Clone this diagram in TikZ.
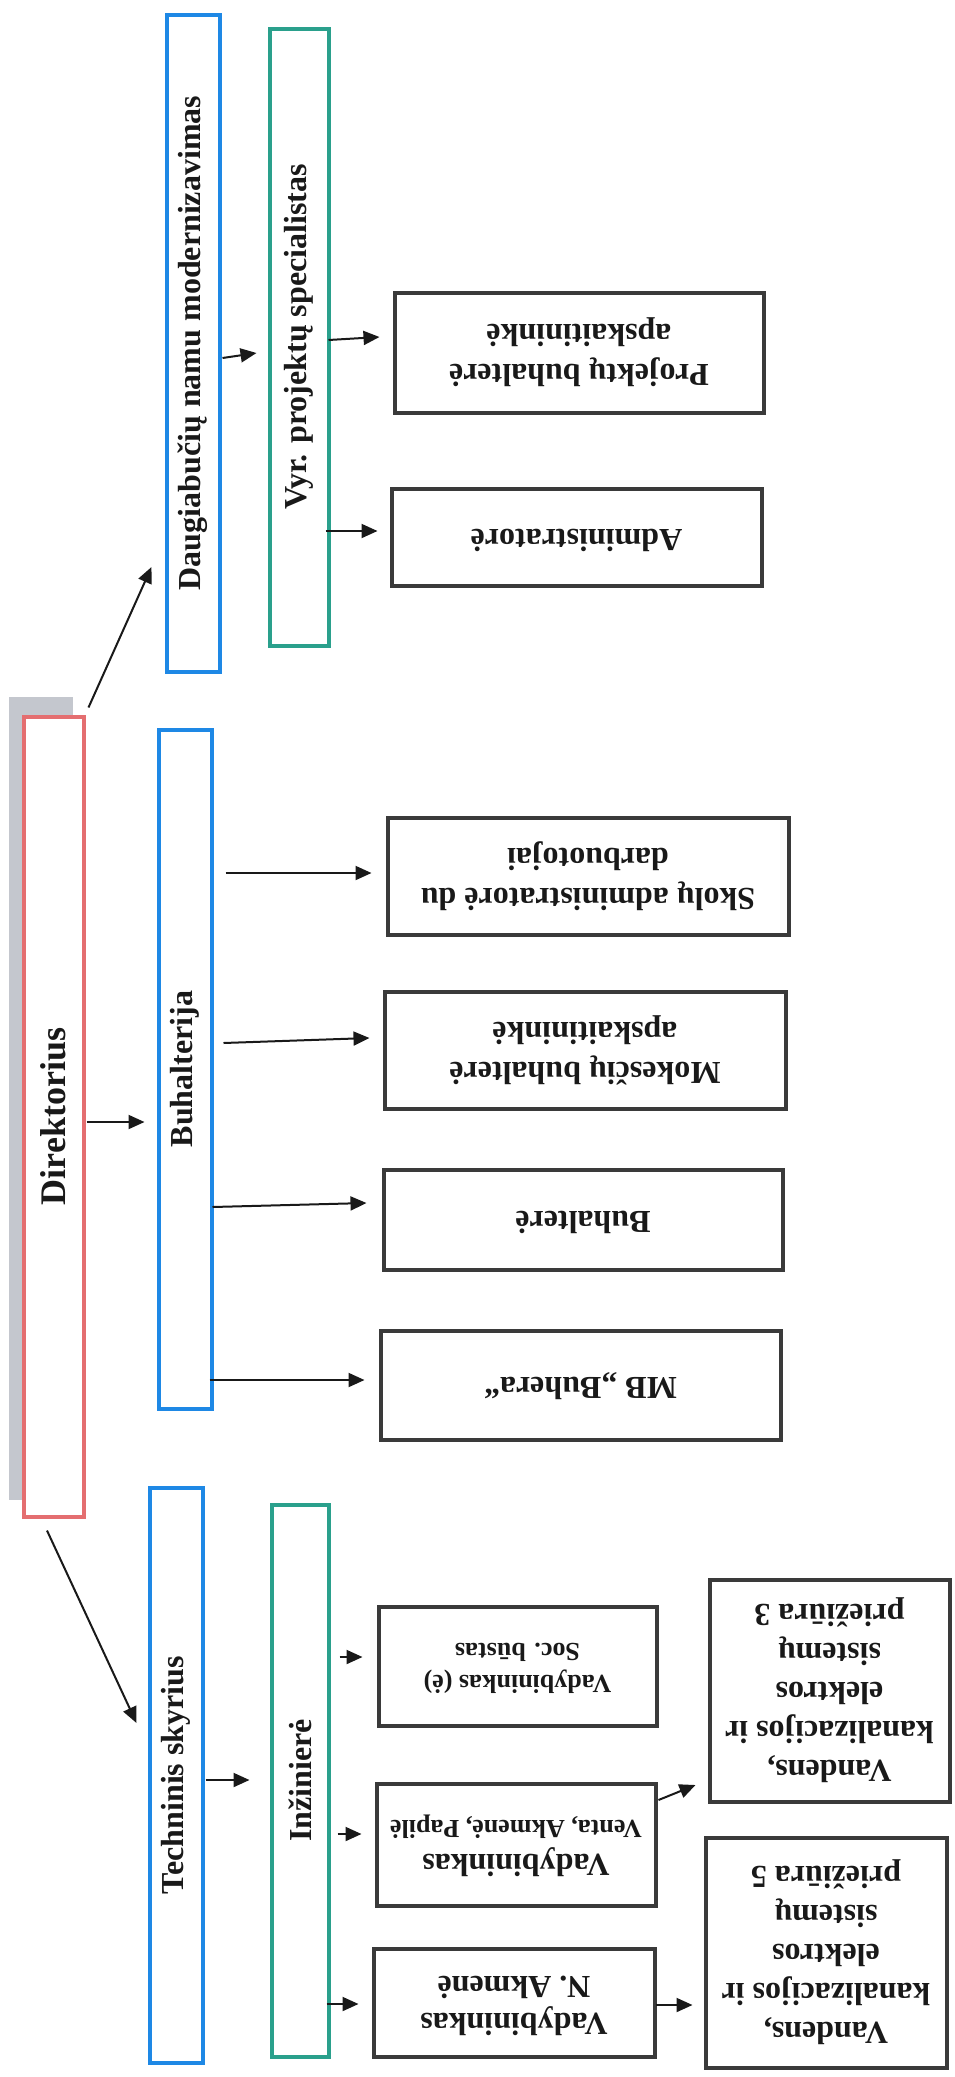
\documentclass[tikz,border=0pt]{standalone}
\usepackage{fontspec}
\setmainfont{Liberation Serif}
\usepackage{graphicx}
\usetikzlibrary{arrows.meta}
\definecolor{bblue}{RGB}{30,136,229}
\definecolor{tteal}{RGB}{42,160,140}
\definecolor{rred}{RGB}{228,110,112}
\definecolor{dgray}{RGB}{58,58,58}
\definecolor{shad}{RGB}{196,199,206}
\definecolor{txt}{RGB}{25,25,25}
\newcommand{\flipt}[1]{\rotatebox{180}{\begin{tabular}{@{}c@{}}#1\end{tabular}}}
\newcommand{\upt}[1]{\rotatebox{90}{#1}}
\begin{document}
\begin{tikzpicture}[x=1pt,y=-1pt,
  box/.style={draw=dgray, line width=4pt, fill=white, inner sep=0pt, text=txt,
    font=\bfseries\fontsize{32}{40}\selectfont},
  vbox/.style={line width=4pt, fill=white, inner sep=0pt, text=txt,
    font=\bfseries\fontsize{32}{40}\selectfont},
  arr/.style={line width=2pt, draw=txt, -{Triangle[length=16pt,width=14pt]}},
]
\useasboundingbox (0,0) rectangle (954,2077);

% Direktorius with shadow
\fill[shad] (9,697) rectangle (73,1500);
\node[vbox, draw=rred, minimum width=60pt, minimum height=800pt,
  font=\bfseries\fontsize{36}{44}\selectfont] (dir) at (53.5,1116.5) {\upt{Direktorius}};

% second level
\node[vbox, draw=bblue, minimum width=53pt, minimum height=657pt] (daug) at (193,343) {\upt{Daugiabučių namu modernizavimas}};
\node[vbox, draw=bblue, minimum width=53pt, minimum height=679pt] (buh) at (185,1069) {\upt{Buhalterija}};
\node[vbox, draw=bblue, minimum width=53pt, minimum height=575pt] (tech) at (176,1775) {\upt{Techninis skyrius}};

% third level (teal)
\node[vbox, draw=tteal, minimum width=59pt, minimum height=617pt] (vyr) at (299,337) {\upt{Vyr. projektų specialistas}};
\node[vbox, draw=tteal, minimum width=57pt, minimum height=552pt] (inz) at (300,1780.5) {\upt{Inžinierė}};

% leaf boxes
\node[box, minimum width=369pt, minimum height=120pt] (proj) at (579,352.5) {\flipt{Projektų buhalterė\\apskaitininkė}};
\node[box, minimum width=370pt, minimum height=97pt] (admin) at (576.5,537) {\flipt{Administratorė}};

\node[box, minimum width=401pt, minimum height=117pt] (skol) at (588,876) {\flipt{Skolų administratorė du\\darbuotojai}};
\node[box, minimum width=401pt, minimum height=117pt] (mok) at (585,1050) {\flipt{Mokesčių buhalterė\\apskaitininkė}};
\node[box, minimum width=399pt, minimum height=100pt] (buhe) at (583,1219.5) {\flipt{Buhalterė}};
\node[box, minimum width=400pt, minimum height=109pt] (mb) at (580.5,1385) {\flipt{MB „Buhera“}};

\node[box, minimum width=278pt, minimum height=119pt,
  font=\bfseries\fontsize{26}{32}\selectfont] (soc) at (517.5,1666) {\flipt{Vadybininkas (ė)\\Soc. būstas}};
\node[box, minimum width=279pt, minimum height=122pt,
  font=\bfseries\fontsize{26}{34}\selectfont] (venta) at (516,1844.5) {\flipt{{\fontsize{32}{38}\selectfont Vadybininkas}\\Venta, Akmenė, Papilė}};
\node[box, minimum width=281pt, minimum height=108pt,
  font=\bfseries\fontsize{32}{37}\selectfont] (nakm) at (514,2002.5) {\flipt{Vadybininkas\\N. Akmenė}};

\node[box, minimum width=240pt, minimum height=222pt,
  font=\bfseries\fontsize{32}{39}\selectfont] (v3) at (829.5,1690.5) {\flipt{Vandens,\\kanalizacijos ir\\elektros\\sistemų\\priežiūra 3}};
\node[box, minimum width=241pt, minimum height=230pt,
  font=\bfseries\fontsize{32}{39}\selectfont] (v5) at (826,1952.5) {\flipt{Vandens,\\kanalizacijos ir\\elektros\\sistemų\\priežiūra 5}};

% connectors
\draw[arr] ([shift={(3pt,7pt)}]dir.north east) -- ([shift={(-13pt,-224pt)}]daug.west);
\draw[arr] ([shift={(1pt,-5.5pt)}]dir.east) -- ([shift={(-12pt,-53pt)}]buh.west);
\draw[arr] ([shift={(-6.5pt,-12pt)}]dir.south) -- ([shift={(-11pt,52pt)}]tech.west);

\draw[arr] ([shift={(1pt,-15pt)}]daug.east) -- ([shift={(-11pt,-16pt)}]vyr.west);
\draw[arr] ([shift={(-2pt,-3pt)}]vyr.east) -- ([shift={(-13pt,15.5pt)}]proj.west);
\draw[arr] ([shift={(-5pt,-194pt)}]vyr.east) -- ([shift={(-12pt,6pt)}]admin.west);

\draw[arr] ([shift={(12pt,196pt)}]buh.east) -- ([shift={(-14pt,3pt)}]skol.west);
\draw[arr] ([shift={(10pt,26pt)}]buh.east) -- ([shift={(-13pt,12pt)}]mok.west);
\draw[arr] ([shift={(-1pt,-138pt)}]buh.east) -- ([shift={(-15pt,16.5pt)}]buhe.west);
\draw[arr] ([shift={(-4pt,-311pt)}]buh.east) -- ([shift={(-14pt,5pt)}]mb.west);

\draw[arr] ([shift={(1pt,-5pt)}]tech.east) -- ([shift={(-20pt,0.5pt)}]inz.west);
\draw[arr] ([shift={(9pt,123.5pt)}]inz.east) -- ([shift={(-14pt,9pt)}]soc.west);
\draw[arr] ([shift={(7pt,-53.5pt)}]inz.east) -- ([shift={(-13pt,10.5pt)}]venta.west);
\draw[arr] ([shift={(-4pt,-223.5pt)}]inz.east) -- ([shift={(-13pt,-1.5pt)}]nakm.west);

\draw[arr] ([shift={(1pt,44.5pt)}]venta.east) -- ([shift={(-12pt,-94.5pt)}]v3.west);
\draw[arr] ([shift={(-1pt,-2.5pt)}]nakm.east) -- ([shift={(-11pt,-52.5pt)}]v5.west);
\end{tikzpicture}
\end{document}
